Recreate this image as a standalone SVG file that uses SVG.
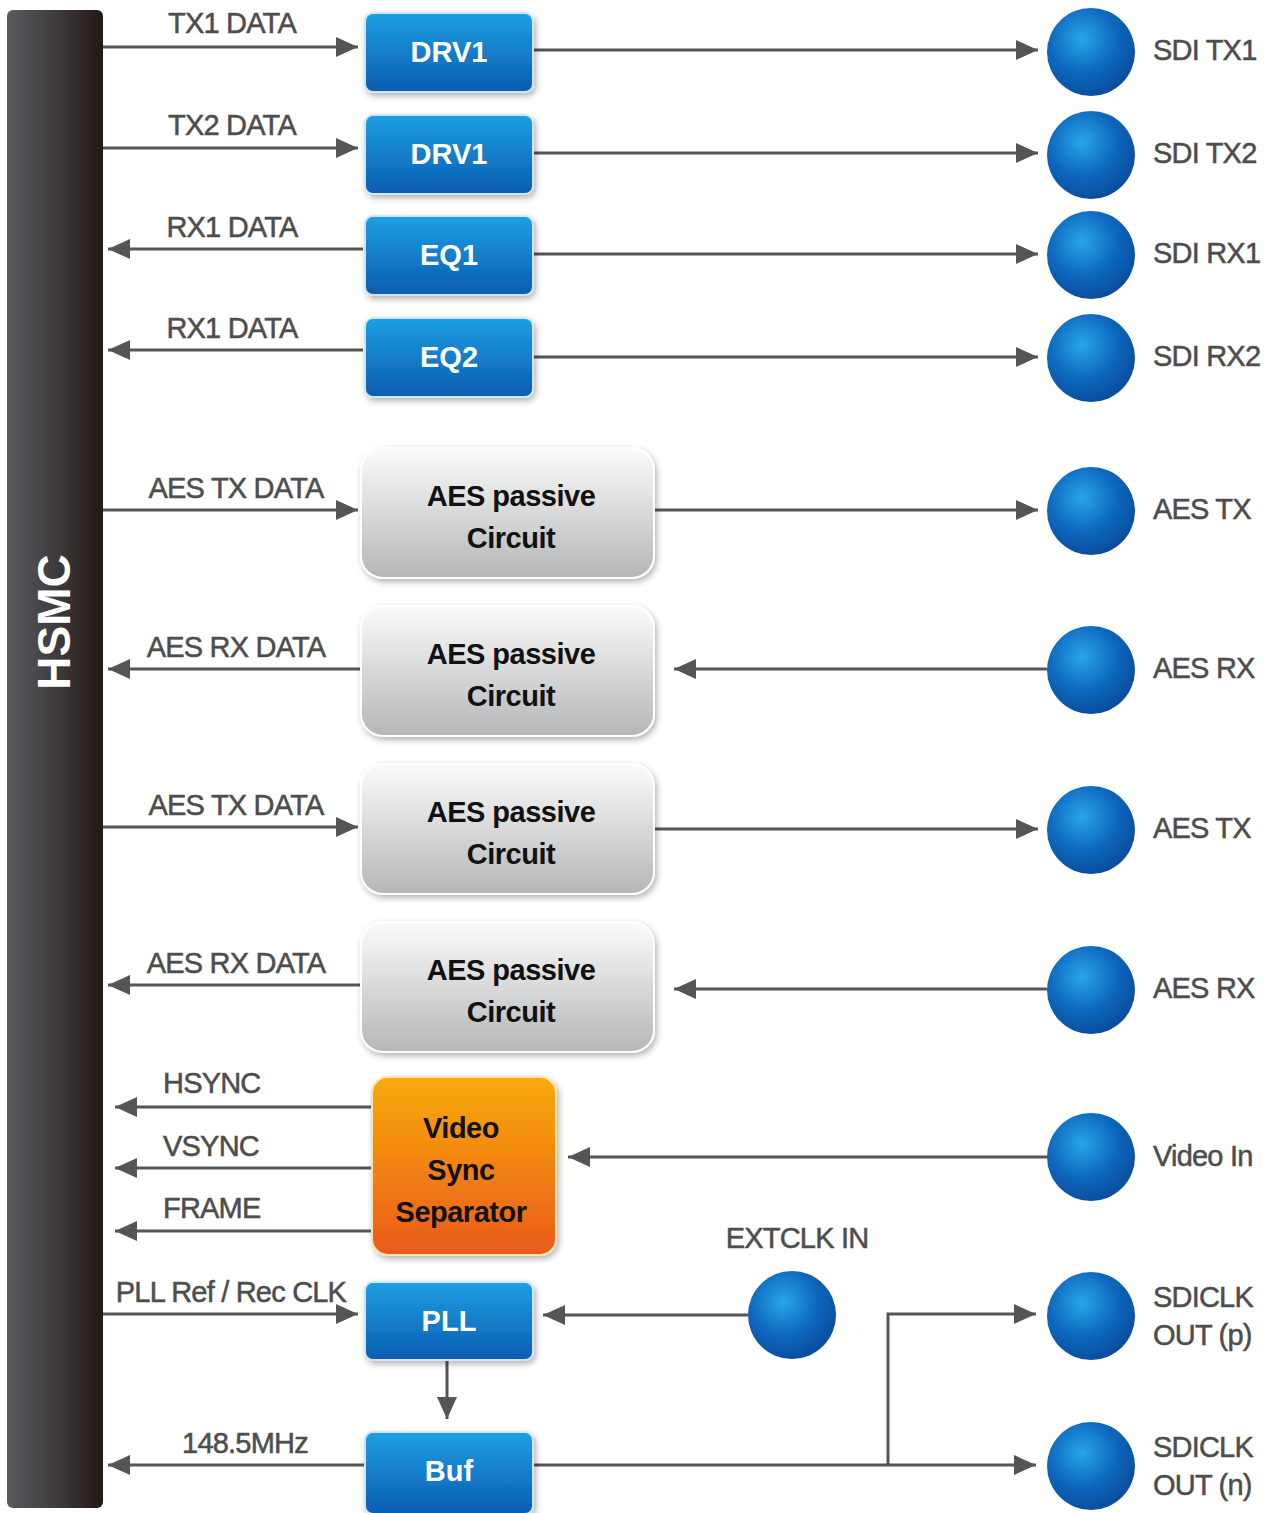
<svg xmlns="http://www.w3.org/2000/svg" width="1273" height="1513" viewBox="0 0 1273 1513">
<defs>
<style>
.lbl{font-family:"Liberation Sans",Arial,sans-serif;font-size:29px;fill:#4d4d4d;stroke:#4d4d4d;stroke-width:0.5px;letter-spacing:-0.8px}
.blt{font-family:"Liberation Sans",Arial,sans-serif;font-size:29px;font-weight:bold;fill:#ffffff;text-anchor:middle}
.aet{font-family:"Liberation Sans",Arial,sans-serif;font-size:29px;font-weight:bold;fill:#111111;text-anchor:middle;letter-spacing:-0.5px}
.ln{stroke:#555555;stroke-width:3;fill:none}
.arr{marker-end:url(#ah)}
.bbox{fill:url(#gBlue);stroke:#cfe6f7;stroke-width:2;filter:url(#sh)}
.abox{fill:url(#gGray);stroke:#ffffff;stroke-width:2;filter:url(#sh)}
.sph{fill:url(#gSph)}
</style>
<linearGradient id="gBar" x1="0" y1="0" x2="1" y2="0">
<stop offset="0" stop-color="#5b5a5f"/><stop offset="0.5" stop-color="#3f3c3e"/><stop offset="1" stop-color="#231916"/>
</linearGradient>
<linearGradient id="gBlue" x1="0" y1="0" x2="0" y2="1">
<stop offset="0" stop-color="#1f9fe3"/><stop offset="1" stop-color="#0a5cb0"/>
</linearGradient>
<linearGradient id="gGray" x1="0" y1="0" x2="0" y2="1">
<stop offset="0" stop-color="#fbfbfb"/><stop offset="1" stop-color="#b5b6b8"/>
</linearGradient>
<linearGradient id="gOr" x1="0" y1="0" x2="0" y2="1">
<stop offset="0" stop-color="#f9ab08"/><stop offset="1" stop-color="#ea5a1c"/>
</linearGradient>
<radialGradient id="gSph" cx="0.4" cy="0.35" r="0.65">
<stop offset="0" stop-color="#29a5ea"/><stop offset="0.6" stop-color="#0d67bd"/><stop offset="1" stop-color="#0a4f9f"/>
</radialGradient>
<filter id="sh" x="-10%" y="-10%" width="130%" height="130%">
<feDropShadow dx="2" dy="3" stdDeviation="3" flood-color="#000" flood-opacity="0.3"/>
</filter>
<marker id="ah" markerUnits="userSpaceOnUse" markerWidth="24" markerHeight="22" refX="22" refY="10" orient="auto">
<path d="M0,0 L22,10 L0,20 z" fill="#555555"/>
</marker>
</defs>
<rect width="1273" height="1513" fill="#ffffff"/>

<g id="hsmc">
<rect x="7" y="10" width="96" height="1498" rx="6" fill="url(#gBar)"/>
<text transform="translate(70,622) rotate(-90)" text-anchor="middle" font-family="Liberation Sans,Arial,sans-serif" font-size="46" font-weight="bold" fill="#ffffff">HSMC</text>
</g>

<g id="connectors">
<line class="ln arr" x1="103" y1="47" x2="358" y2="47"/>
<line class="ln arr" x1="533" y1="50" x2="1038" y2="50"/>
<line class="ln arr" x1="103" y1="148" x2="358" y2="148"/>
<line class="ln arr" x1="533" y1="153" x2="1038" y2="153"/>
<line class="ln arr" x1="363" y1="249" x2="108" y2="249"/>
<line class="ln arr" x1="533" y1="254" x2="1038" y2="254"/>
<line class="ln arr" x1="363" y1="350" x2="108" y2="350"/>
<line class="ln arr" x1="533" y1="357" x2="1038" y2="357"/>
<line class="ln arr" x1="103" y1="510" x2="358" y2="510"/>
<line class="ln arr" x1="654" y1="510" x2="1038" y2="510"/>
<line class="ln arr" x1="361" y1="669" x2="108" y2="669"/>
<line class="ln arr" x1="1047" y1="669" x2="674" y2="669"/>
<line class="ln arr" x1="103" y1="827" x2="358" y2="827"/>
<line class="ln arr" x1="654" y1="829" x2="1038" y2="829"/>
<line class="ln arr" x1="361" y1="985" x2="108" y2="985"/>
<line class="ln arr" x1="1047" y1="989" x2="674" y2="989"/>
<line class="ln arr" x1="372" y1="1107" x2="115" y2="1107"/>
<line class="ln arr" x1="372" y1="1168" x2="115" y2="1168"/>
<line class="ln arr" x1="372" y1="1231" x2="115" y2="1231"/>
<line class="ln arr" x1="1047" y1="1157" x2="568" y2="1157"/>
<line class="ln arr" x1="103" y1="1314" x2="358" y2="1314"/>
<line class="ln arr" x1="748" y1="1315" x2="543" y2="1315"/>
<line class="ln arr" x1="447" y1="1361" x2="447" y2="1419"/>
<line class="ln arr" x1="365" y1="1465" x2="108" y2="1465"/>
<line class="ln arr" x1="533" y1="1465" x2="1036" y2="1465"/>
<polyline class="ln arr" points="888,1465 888,1314 1036,1314"/>
</g>

<g id="labels">
<text class="lbl" x="232" y="33" text-anchor="middle">TX1 DATA</text>
<text class="lbl" x="232" y="135" text-anchor="middle">TX2 DATA</text>
<text class="lbl" x="232" y="237" text-anchor="middle">RX1 DATA</text>
<text class="lbl" x="232" y="338" text-anchor="middle">RX1 DATA</text>
<text class="lbl" x="236" y="498" text-anchor="middle">AES TX DATA</text>
<text class="lbl" x="236" y="657" text-anchor="middle">AES RX DATA</text>
<text class="lbl" x="236" y="815" text-anchor="middle">AES TX DATA</text>
<text class="lbl" x="236" y="973" text-anchor="middle">AES RX DATA</text>
<text class="lbl" x="163" y="1093">HSYNC</text>
<text class="lbl" x="163" y="1156">VSYNC</text>
<text class="lbl" x="163" y="1218">FRAME</text>
<text class="lbl" x="231" y="1302" text-anchor="middle">PLL Ref / Rec CLK</text>
<text class="lbl" x="245" y="1453" text-anchor="middle">148.5MHz</text>
</g>

<g id="drv1a"><rect class="bbox" x="365" y="13" width="168" height="79" rx="8"/><text class="blt" x="449" y="62">DRV1</text></g>
<g id="drv1b"><rect class="bbox" x="365" y="115" width="168" height="79" rx="8"/><text class="blt" x="449" y="164">DRV1</text></g>
<g id="eq1"><rect class="bbox" x="365" y="216" width="168" height="79" rx="8"/><text class="blt" x="449" y="265">EQ1</text></g>
<g id="eq2"><rect class="bbox" x="365" y="318" width="168" height="79" rx="8"/><text class="blt" x="449" y="367">EQ2</text></g>

<g id="aes1"><rect class="abox" x="361" y="448" width="293" height="130" rx="22"/><text class="aet" x="511" y="506">AES passive</text><text class="aet" x="511" y="548">Circuit</text></g>
<g id="aes2"><rect class="abox" x="361" y="606" width="293" height="130" rx="22"/><text class="aet" x="511" y="664">AES passive</text><text class="aet" x="511" y="706">Circuit</text></g>
<g id="aes3"><rect class="abox" x="361" y="764" width="293" height="130" rx="22"/><text class="aet" x="511" y="822">AES passive</text><text class="aet" x="511" y="864">Circuit</text></g>
<g id="aes4"><rect class="abox" x="361" y="922" width="293" height="130" rx="22"/><text class="aet" x="511" y="980">AES passive</text><text class="aet" x="511" y="1022">Circuit</text></g>

<g id="vss"><rect x="372" y="1077" width="184" height="178" rx="16" fill="url(#gOr)" stroke="#fde3a8" stroke-width="2" filter="url(#sh)"/>
<text class="aet" x="461" y="1138" font-size="30">Video</text><text class="aet" x="461" y="1180">Sync</text><text class="aet" x="461" y="1222">Separator</text></g>

<g id="pll"><rect class="bbox" x="365" y="1282" width="168" height="78" rx="8"/><text class="blt" x="449" y="1331">PLL</text></g>
<g id="buf"><rect class="bbox" x="365" y="1432" width="168" height="82" rx="8"/><text class="blt" x="449" y="1481">Buf</text></g>

<g id="sdi-tx1"><circle class="sph" cx="1091" cy="52" r="44"/><text class="lbl" x="1153" y="60">SDI TX1</text></g>
<g id="sdi-tx2"><circle class="sph" cx="1091" cy="155" r="44"/><text class="lbl" x="1153" y="163">SDI TX2</text></g>
<g id="sdi-rx1"><circle class="sph" cx="1091" cy="255" r="44"/><text class="lbl" x="1153" y="263">SDI RX1</text></g>
<g id="sdi-rx2"><circle class="sph" cx="1091" cy="358" r="44"/><text class="lbl" x="1153" y="366">SDI RX2</text></g>
<g id="aes-tx1"><circle class="sph" cx="1091" cy="511" r="44"/><text class="lbl" x="1153" y="519">AES TX</text></g>
<g id="aes-rx1"><circle class="sph" cx="1091" cy="670" r="44"/><text class="lbl" x="1153" y="678">AES RX</text></g>
<g id="aes-tx2"><circle class="sph" cx="1091" cy="830" r="44"/><text class="lbl" x="1153" y="838">AES TX</text></g>
<g id="aes-rx2"><circle class="sph" cx="1091" cy="990" r="44"/><text class="lbl" x="1153" y="998">AES RX</text></g>
<g id="video-in"><circle class="sph" cx="1091" cy="1157" r="44"/><text class="lbl" x="1153" y="1166">Video In</text></g>
<g id="extclk"><circle class="sph" cx="792" cy="1315" r="44"/><text class="lbl" x="797" y="1248" text-anchor="middle">EXTCLK IN</text></g>
<g id="sdiclk-p"><circle class="sph" cx="1091" cy="1316" r="44"/><text class="lbl" x="1153" y="1307">SDICLK</text><text class="lbl" x="1153" y="1345">OUT (p)</text></g>
<g id="sdiclk-n"><circle class="sph" cx="1091" cy="1466" r="44"/><text class="lbl" x="1153" y="1457">SDICLK</text><text class="lbl" x="1153" y="1495">OUT (n)</text></g>
</svg>
